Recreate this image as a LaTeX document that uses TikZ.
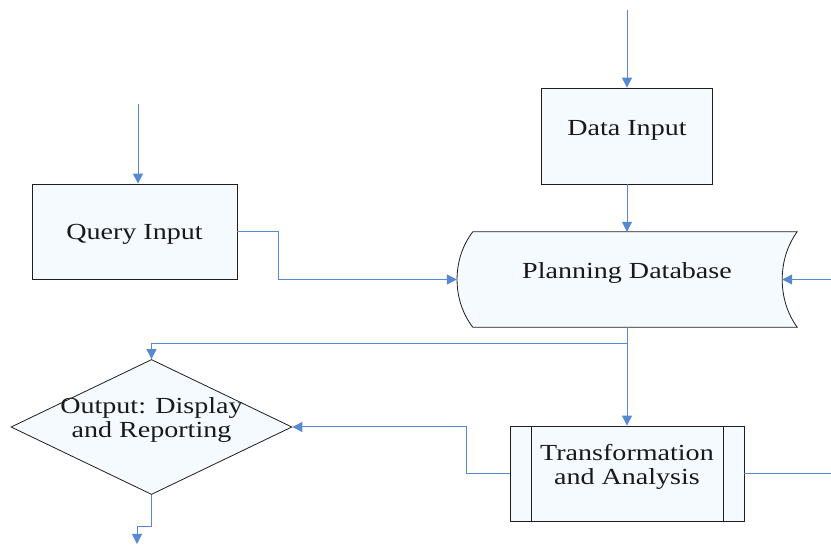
\documentclass[tikz,border=0pt]{standalone}
\usepackage{fontspec}
\setmainfont{Liberation Serif}
\usepackage{graphicx}
\usetikzlibrary{arrows.meta,shapes.geometric,calc}

\definecolor{flowblue}{RGB}{86,137,210}
\definecolor{boxfill}{RGB}{245,250,254}
\definecolor{boxline}{RGB}{30,30,30}

% stretched text, one or more lines
\newcommand{\st}[1]{\scalebox{1.22}[1]{\begin{tabular}{@{}c@{}}#1\end{tabular}}}

\tikzset{
  procbox/.style={draw=boxline, fill=boxfill, line width=0.8pt, inner sep=0pt},
  decbox/.style={procbox, diamond, aspect=2},
  dbbox/.style={inner sep=0pt, minimum width=340pt, minimum height=95pt},
  txt/.style={inner sep=0pt, font=\fontsize{23}{24}\selectfont, text=black!90},
  flow/.style={draw=flowblue, line width=1pt, -{Triangle[length=10pt,width=10pt]}},
  plain/.style={draw=flowblue, line width=1pt}
}

\begin{document}
\begin{tikzpicture}[x=1pt, y=-1pt]
    \useasboundingbox (0,0) rectangle (831,545);

    % Column positions
    \def\xm{627}
    \def\xq{134.5}

    % Shapes
    \node[procbox, minimum width=171pt, minimum height=96pt] (datain) at (\xm,136) {};
    \node[procbox, minimum width=205pt, minimum height=95pt] (query) at (\xq,231.5) {};
    \node[dbbox] (db) at (\xm,279.5) {};
    \node[decbox, minimum width=281pt, minimum height=135pt] (out) at (151.5,427) {};
    \node[procbox, minimum width=234pt, minimum height=95pt] (trans) at (\xm,473.5) {};

    % Database outline
    \draw[boxline, fill=boxfill, line width=0.8pt]
        ($(db.north west)+(16,0)$) -- (db.north east)
        .. controls ($(db.north east)+(-20,27)$) and ($(db.south east)+(-20,-27)$) .. (db.south east)
        -- ($(db.south west)+(16,0)$)
        .. controls ($(db.south west)+(-5,-27)$) and ($(db.north west)+(-5,27)$) .. ($(db.north west)+(16,0)$)
        -- cycle;

    % Inner bars of the process box
    \draw[boxline, line width=0.8pt] ([xshift=22pt]trans.north west) -- ([xshift=22pt]trans.south west);
    \draw[boxline, line width=0.8pt] ([xshift=-21pt]trans.north east) -- ([xshift=-21pt]trans.south east);

    % Labels
    \node[txt] (dataintxt) at ([yshift=5pt]datain.center) {\st{Data Input}};
    \node[txt] (querytxt) at ([yshift=-3pt]query.center) {\st{Query Input}};
    \node[txt] (dbtxt) at ([yshift=6pt]db.center) {\st{Planning Database}};
    \node[txt] (outtxt) at ([yshift=6pt]out.center) {\st{Output: Display\\and Reporting}};
    \node[txt] (transtxt) at ([yshift=6pt]trans.center) {\st{Transformation\\and Analysis}};

    % Free ends
    \coordinate (datainsrc) at (\xm,10);
    \coordinate (querysrc) at (138,104);
    \coordinate (dbsrc) at (831,279.5);
    \coordinate (transdst) at (831,473.5);
    \coordinate (outdst) at (137,544);

    % Connectors
    \draw[flow] (datainsrc) -- (datain.north);
    \draw[flow] (datain.south) -- (db.north);
    \draw[flow] (querysrc) -- (querysrc |- query.north);
    \draw[flow] (query.east) -- ++(41,0) |- (db.west);
    \draw[flow] (dbsrc) -- ([xshift=-15pt]db.east);
    \draw[flow] (db.south) -- (trans.north);
    \draw[flow] ([yshift=-16pt]db.south) -| (out.north);
    \draw[flow] (trans.west) -- ++(-43,0) |- (out.east);
    \draw[plain] (trans.east) -- (transdst);
    \draw[flow] (out.south) -- ++(0,32) -| (outdst);
\end{tikzpicture}
\end{document}
